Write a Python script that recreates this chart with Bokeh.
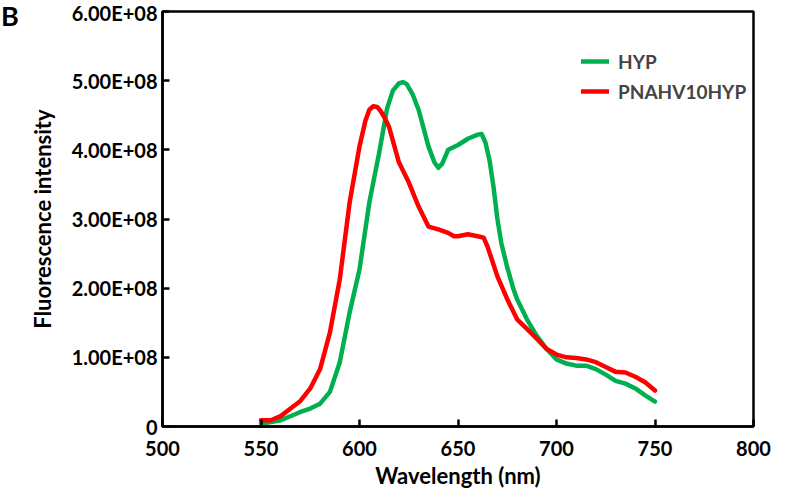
from bokeh.plotting import figure
from bokeh.models import FixedTicker, Range1d, Legend, LegendItem, Div
from bokeh.layouts import row
from bokeh.embed import file_html
from bokeh.resources import INLINE

# Wavelength (nm) and fluorescence intensity (in units of 1E+08)
hyp_wl = [550, 560, 570, 575, 580, 585, 590, 595, 600, 605, 610, 614, 617, 620, 622, 624, 627, 630,
          635, 638, 640, 642, 645, 650, 655, 660, 662, 664, 666, 668, 670, 672, 675, 678, 680, 685,
          690, 695, 700, 705, 710, 715, 720, 725, 730, 735, 740, 745, 750]
hyp_val = [0.04, 0.09, 0.21, 0.26, 0.33, 0.50, 0.93, 1.65, 2.27, 3.24, 3.96, 4.60, 4.86, 4.96, 4.98,
           4.95, 4.80, 4.58, 4.05, 3.82, 3.74, 3.80, 4.00, 4.07, 4.16, 4.22, 4.23, 4.10, 3.85, 3.47,
           3.00, 2.65, 2.30, 2.00, 1.84, 1.55, 1.31, 1.12, 0.97, 0.91, 0.88, 0.88, 0.83, 0.75, 0.66,
           0.62, 0.55, 0.45, 0.36]

pna_wl = [550, 555, 560, 565, 570, 575, 580, 585, 590, 595, 600, 603, 605, 607, 609, 611, 613, 615,
          620, 625, 630, 635, 640, 645, 648, 650, 655, 660, 663, 665, 670, 675, 680, 685, 690, 695,
          700, 705, 710, 715, 720, 725, 730, 735, 740, 745, 750]
pna_val = [0.09, 0.09, 0.15, 0.26, 0.37, 0.55, 0.83, 1.36, 2.13, 3.24, 4.05, 4.42, 4.58, 4.63, 4.62,
           4.55, 4.45, 4.33, 3.82, 3.53, 3.18, 2.89, 2.85, 2.80, 2.75, 2.75, 2.78, 2.75, 2.73, 2.60,
           2.17, 1.84, 1.55, 1.41, 1.27, 1.12, 1.04, 1.00, 0.99, 0.97, 0.93, 0.86, 0.79, 0.78, 0.72,
           0.64, 0.52]

x_ticks = [500, 550, 600, 650, 700, 750, 800]
y_ticks = [0, 1e8, 2e8, 3e8, 4e8, 5e8, 6e8]
y_tick_labels = ["0", "1.00E+08", "2.00E+08", "3.00E+08", "4.00E+08", "5.00E+08", "6.00E+08"]

FONT = "Lato"
DIV_W = 25

p = figure(width=790 - DIV_W, height=491, output_backend="svg", toolbar_location=None,
           x_range=Range1d(500, 800), y_range=Range1d(0, 6e8),
           min_border_left=161 - DIV_W, min_border_right=37, min_border_top=11, min_border_bottom=64)
p.grid.visible = False
p.background_fill_color = "white"
p.border_fill_color = "white"
p.outline_line_color = "black"
p.outline_line_width = 2.5

for ax in (p.xaxis[0], p.yaxis[0]):
    ax.axis_line_width = 2.5
    ax.axis_line_color = "black"
    ax.major_tick_line_width = 2.5
    ax.major_tick_in = 7
    ax.major_tick_out = 0
    ax.minor_tick_line_color = None
    ax.major_label_text_font = FONT
    ax.major_label_text_font_style = "bold"
    ax.major_label_text_font_size = "20px"
    ax.major_label_text_color = "black"
    ax.axis_label_text_font = FONT
    ax.axis_label_text_font_style = "bold"
    ax.axis_label_text_font_size = "22px"
    ax.axis_label_text_color = "black"

p.xaxis.ticker = FixedTicker(ticks=x_ticks)
p.yaxis.ticker = FixedTicker(ticks=y_ticks)
p.yaxis.major_label_overrides = {t: s for t, s in zip(y_ticks, y_tick_labels)}
p.xaxis.axis_label = "Wavelength (nm)"
p.yaxis.axis_label = "Fluorescence intensity"
p.xaxis.major_label_standoff = 14
p.xaxis.axis_label_standoff = 3
p.yaxis.major_label_standoff = 5
p.yaxis.axis_label_standoff = 13

r_hyp = p.line(hyp_wl, [v * 1e8 for v in hyp_val], line_color="#00B050", line_width=4.5,
               line_join="round", line_cap="round")
r_pna = p.line(pna_wl, [v * 1e8 for v in pna_val], line_color="#FF0000", line_width=4.5,
               line_join="round", line_cap="round")

legend = Legend(items=[LegendItem(label="HYP", renderers=[r_hyp]),
                       LegendItem(label="PNAHV10HYP", renderers=[r_pna])],
                location=(419, 323), border_line_color=None, background_fill_alpha=0,
                padding=0, margin=0, spacing=6, glyph_width=28, glyph_height=24,
                label_height=24, label_standoff=9, label_text_font=FONT,
                label_text_font_style="bold", label_text_font_size="19px")
p.add_layout(legend, "center")

tag = Div(text="B", width=DIV_W, height=30, margin=0,
          styles={"font-family": "Lato", "font-weight": "bold", "font-size": "27px",
                  "line-height": "1", "color": "black", "position": "relative",
                  "left": "1px", "top": "2px"})

layout = row(tag, p, spacing=0)
open("out.html", "w").write(file_html(layout, INLINE))
